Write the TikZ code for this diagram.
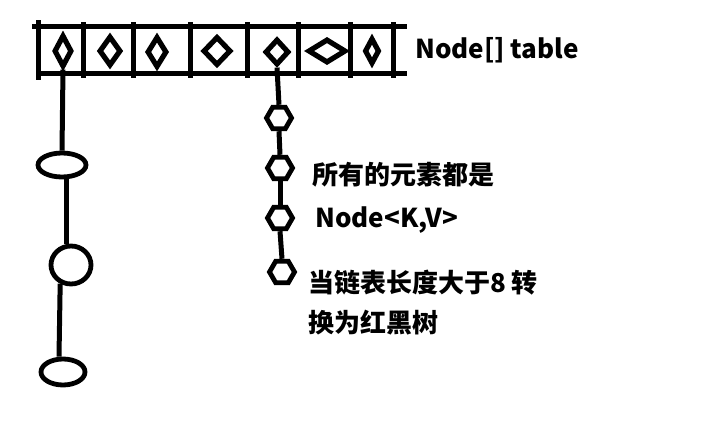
\documentclass[tikz,border=0pt]{standalone}
\usepackage{fontspec}
\setmainfont{Noto Sans CJK SC}
\usetikzlibrary{shapes.geometric}
\tikzset{
  stroke/.style={line width=4.8pt, draw=black},
  dia/.style={line width=5.2pt, draw=black, shape=diamond, inner sep=0pt},
  ell/.style={stroke, shape=ellipse, inner sep=0pt},
  hexa/.style={stroke, shape=regular polygon, regular polygon sides=6, minimum size=25pt, inner sep=0pt},
  link/.style={line width=5pt, draw=black},
  lbl/.style={font=\fontsize{26}{26}\selectfont\bfseries, inner sep=0pt, anchor=west, text=black},
}
\begin{document}
\begin{tikzpicture}[x=1pt, y=-1pt]
\useasboundingbox (0,0) rectangle (713,431);
% table frame
\draw[link] (32,26) -- (407,26);
\draw[link] (38,73) -- (407,73);
\foreach \x/\a/\b in {38/20/80, 83/22/78, 133/22/78, 190/22/78, 247/22/78, 298/22/78, 350/22/78, 393/22/78}
  \draw[link] (\x,\a) -- (\x,\b);
% diamonds
\node[dia, minimum width=18pt, minimum height=32pt] (d1) at (63,51) {};
\node[dia, minimum width=22pt, minimum height=30pt] (d2) at (110,51) {};
\node[dia, minimum width=20pt, minimum height=31pt] (d3) at (157,52) {};
\node[dia, minimum width=28pt, minimum height=29pt] (d4) at (217,51) {};
\node[dia, minimum width=24pt, minimum height=26pt] (d5) at (277,52) {};
\node[dia, minimum width=38pt, minimum height=24pt] (d6) at (327,51) {};
\node[dia, minimum width=15pt, minimum height=26pt] (d7) at (372,51) {};
% left chain
\node[ell, minimum width=48pt, minimum height=24pt] (e1) at (62,165) {};
\node[ell, minimum width=40pt, minimum height=38pt] (e2) at (71,265) {};
\node[ell, minimum width=44pt, minimum height=26pt] (e3) at (63,372) {};
\draw[link] (d1.south) -- (e1.north);
\draw[link] ([xshift=4pt]e1.south) -- ([xshift=-5pt]e2.north);
\draw[link] (e2.240) -- ([xshift=-4pt]e3.north);
% right chain
\node[hexa] (h1) at (279,118) {};
\node[hexa] (h2) at (280,168) {};
\node[hexa] (h3) at (280,218) {};
\node[hexa] (h4) at (282,272) {};
\draw[link] (d5.south) -- (h1.north);
\draw[link] (h1.south) -- (h2.north);
\draw[link] (h2.south) -- (h3.north);
\draw[link] (h3.south) -- (h4.north);
% labels
\node[lbl] (t0) at (415,50) {Node[] table};
\node[lbl] (t1) at (312,175) {所有的元素都是};
\node[lbl] (t2) at (315,220) {Node<K,V>};
\node[lbl] (t3) at (308,283) {当链表长度大于8 转};
\node[lbl] (t4) at (308,323) {换为红黑树};
\end{tikzpicture}
\end{document}
